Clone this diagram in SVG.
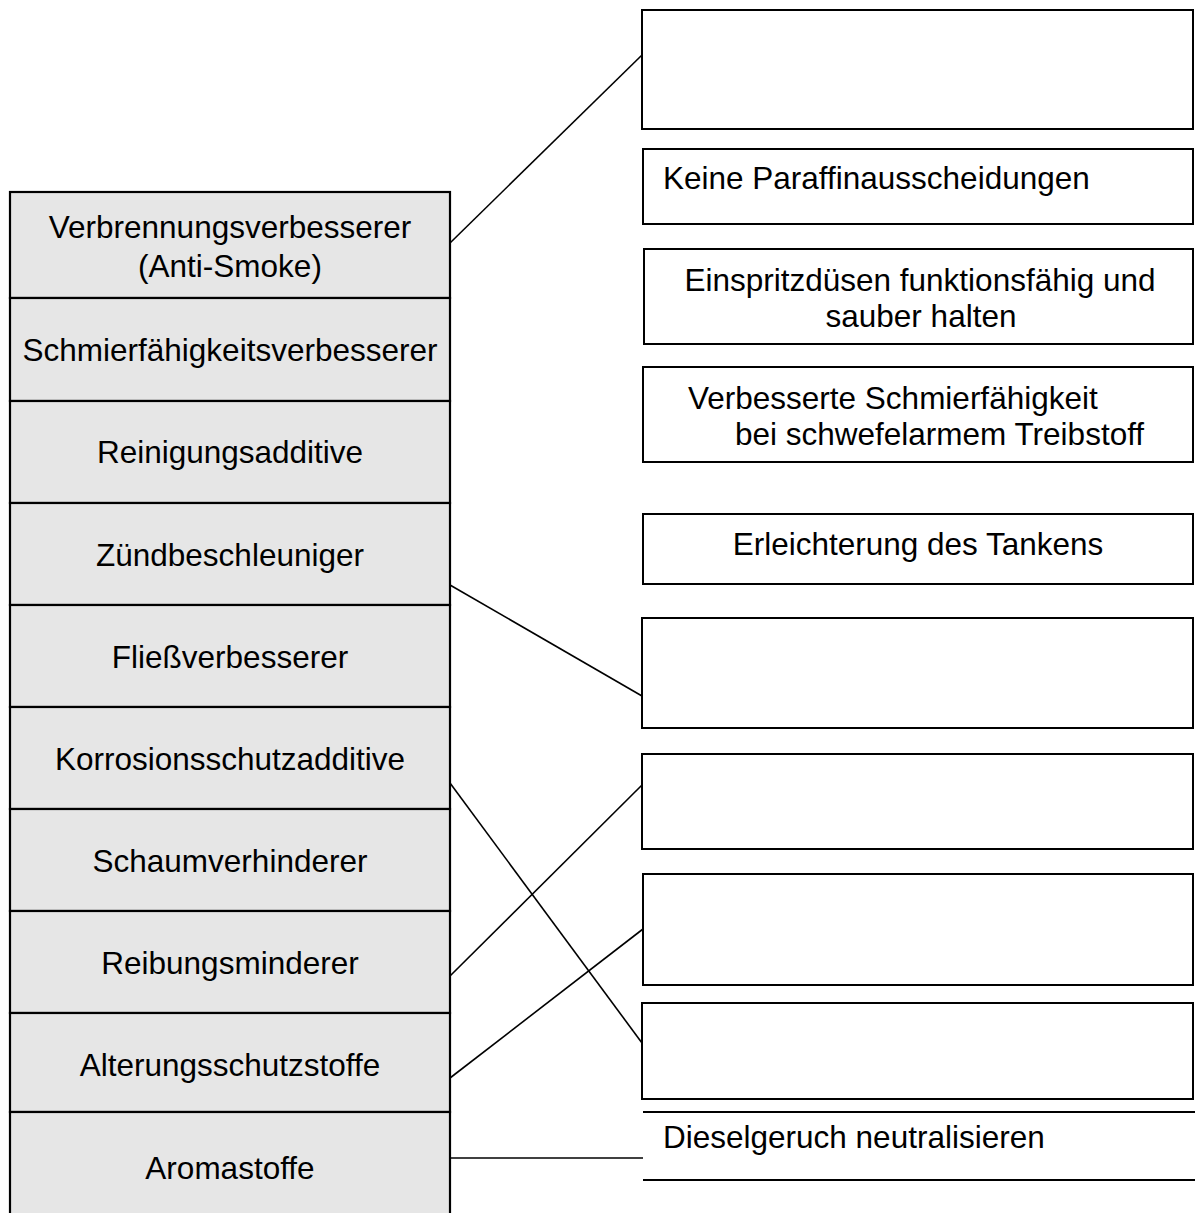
<svg xmlns="http://www.w3.org/2000/svg" width="1195" height="1213" viewBox="0 0 1195 1213">
<style>
.l{fill:#e6e6e6;stroke:#000;stroke-width:2.2}
.r{fill:#fff;stroke:#000;stroke-width:2}
.t{font-family:"Liberation Sans",Arial,sans-serif;font-size:31.5px;fill:#000}
.c{text-anchor:middle}
.k{stroke:#000;stroke-width:1.6;fill:none}
</style>
<rect width="1195" height="1213" fill="#fff"/>
<g id="left-1"><rect class="l" x="10" y="192" width="440" height="106"/><text class="t c" x="230" y="238">Verbrennungsverbesserer</text><text class="t c" x="230" y="277">(Anti-Smoke)</text></g>
<g id="left-2"><rect class="l" x="10" y="298" width="440" height="103"/><text class="t c" x="230" y="361">Schmierfähigkeitsverbesserer</text></g>
<g id="left-3"><rect class="l" x="10" y="401" width="440" height="102"/><text class="t c" x="230" y="463">Reinigungsadditive</text></g>
<g id="left-4"><rect class="l" x="10" y="503" width="440" height="102"/><text class="t c" x="230" y="566">Zündbeschleuniger</text></g>
<g id="left-5"><rect class="l" x="10" y="605" width="440" height="102"/><text class="t c" x="230" y="668">Fließverbesserer</text></g>
<g id="left-6"><rect class="l" x="10" y="707" width="440" height="102"/><text class="t c" x="230" y="770">Korrosionsschutzadditive</text></g>
<g id="left-7"><rect class="l" x="10" y="809" width="440" height="102"/><text class="t c" x="230" y="872">Schaumverhinderer</text></g>
<g id="left-8"><rect class="l" x="10" y="911" width="440" height="102"/><text class="t c" x="230" y="974">Reibungsminderer</text></g>
<g id="left-9"><rect class="l" x="10" y="1013" width="440" height="99"/><text class="t c" x="230" y="1076">Alterungsschutzstoffe</text></g>
<g id="left-10"><rect class="l" x="10" y="1112" width="440" height="120"/><text class="t c" x="230" y="1179">Aromastoffe</text></g>
<g id="right-1"><rect class="r" x="642" y="10" width="551" height="119"/></g>
<g id="right-2"><rect class="r" x="643" y="149" width="550" height="75"/><text class="t" x="663" y="189">Keine Paraffinausscheidungen</text></g>
<g id="right-3"><rect class="r" x="644" y="249" width="549" height="95"/><text class="t c" x="920" y="291">Einspritzdüsen funktionsfähig und</text><text class="t c" x="921" y="327">sauber halten</text></g>
<g id="right-4"><rect class="r" x="643" y="367" width="550" height="95"/><text class="t" x="688" y="409">Verbesserte Schmierfähigkeit</text><text class="t" x="735" y="445">bei schwefelarmem Treibstoff</text></g>
<g id="right-5"><rect class="r" x="643" y="514" width="550" height="70"/><text class="t c" x="918" y="555">Erleichterung des Tankens</text></g>
<g id="right-6"><rect class="r" x="642" y="618" width="551" height="110"/></g>
<g id="right-7"><rect class="r" x="642" y="754" width="551" height="95"/></g>
<g id="right-8"><rect class="r" x="643" y="874" width="550" height="111"/></g>
<g id="right-9"><rect class="r" x="642" y="1003" width="551" height="96"/></g>
<g id="right-10"><line x1="643" y1="1112" x2="1195" y2="1112" stroke="#000" stroke-width="2"/><line x1="643" y1="1180" x2="1195" y2="1180" stroke="#000" stroke-width="2"/><text class="t" x="663" y="1148">Dieselgeruch neutralisieren</text></g>
<g id="connectors">
<line class="k" x1="450" y1="243" x2="642" y2="55"/>
<line class="k" x1="450" y1="585" x2="642" y2="696"/>
<line class="k" x1="450" y1="783" x2="642" y2="1043"/>
<line class="k" x1="450" y1="976" x2="642" y2="785"/>
<line class="k" x1="450" y1="1078" x2="643" y2="929"/>
<line class="k" x1="450" y1="1158" x2="643" y2="1158"/>
</g>
</svg>
